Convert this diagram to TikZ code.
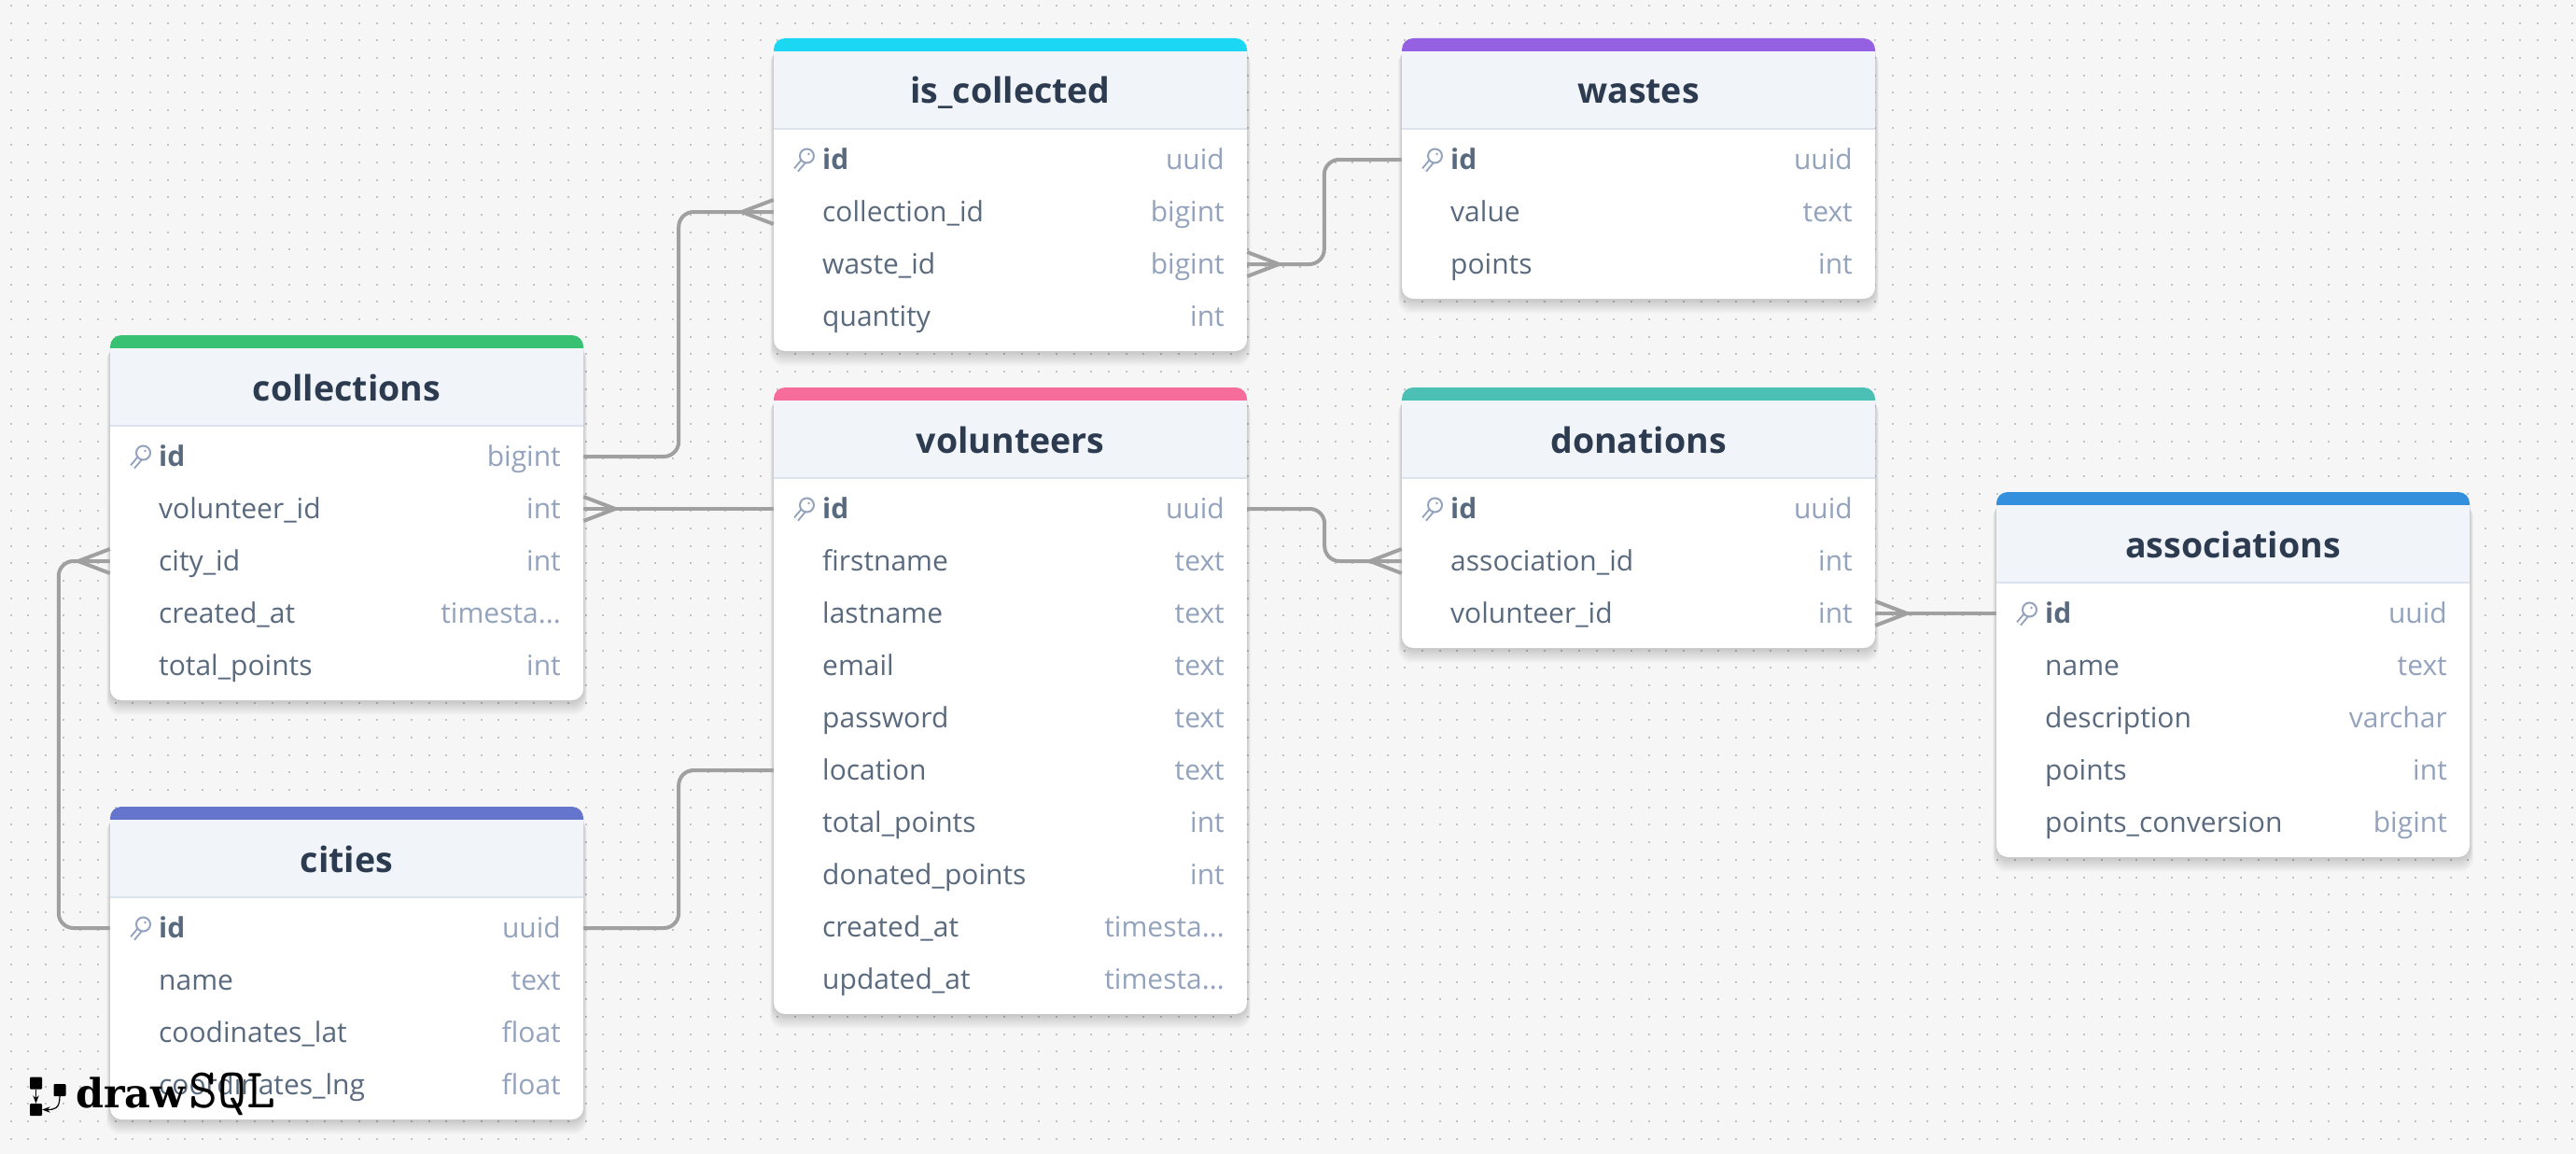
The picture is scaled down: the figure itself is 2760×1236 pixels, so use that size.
\documentclass[tikz,border=0pt]{standalone}
\usepackage{fontspec}
\setmainfont{Open Sans}
\newfontfamily\logofont{DejaVu Serif}
\usetikzlibrary{arrows.meta, positioning}
\definecolor{pagecol}{HTML}{F6F6F6}
\definecolor{dotcol}{HTML}{C2C2C2}
\definecolor{headcol}{HTML}{F1F4F9}
\definecolor{headline}{HTML}{DBE3EF}
\definecolor{titlecol}{HTML}{2D3B50}
\definecolor{fieldcol}{HTML}{5A6A7E}
\definecolor{typecol}{HTML}{94A3BD}
\definecolor{linkcol}{HTML}{A0A0A0}
\definecolor{greencol}{HTML}{38C172}
\definecolor{cyancol}{HTML}{1CD7F2}
\definecolor{purplecol}{HTML}{9561E2}
\definecolor{pinkcol}{HTML}{F66D9B}
\definecolor{tealcol}{HTML}{4DC0B5}
\definecolor{indigocol}{HTML}{6574CD}
\definecolor{bluecol}{HTML}{3490DC}
\newcommand{\tstamp}{timesta...}
\tikzset{
  cardshadow/.style={fill=black, fill opacity=0.011, rounded corners=14pt},
  tabletitle/.style={anchor=base, inner sep=0pt, text=titlecol, font=\fontsize{37.5}{42}\selectfont\bfseries},
  rowbox/.style={minimum width=507pt, minimum height=56pt, inner sep=0pt},
  fieldname/.style={anchor=base west, inner sep=0pt, text=fieldcol, font=\fontsize{30}{34}\selectfont},
  pkname/.style={fieldname, font=\fontsize{30}{34}\selectfont\bfseries},
  fieldtype/.style={anchor=base east, inner sep=0pt, text=typecol, font=\fontsize{30}{34}\selectfont},
  link/.style={draw=linkcol, line width=4pt, rounded corners=16pt},
  crow/.pic={\draw[linkcol, line width=4pt] (0,-13) -- (34,0) -- (0,13);},
  keyicon/.pic={
    \draw[typecol, line width=7pt] (-8,11) -- (3,-2);
    \draw[white, line width=3pt] (-8,11) -- (3,-2);
    \draw[typecol, line width=2pt, fill=white] (3.5,-4) circle (7.5);
    \fill[typecol] (5.5,-6) circle (1.4);
  },
  logosq/.style={fill=black, rounded corners=1pt, minimum width=13pt, minimum height=13pt, inner sep=0pt},
}
% #1 name, #2 left, #3 top, #4 rows, #5 colour, #6 title, #7 type of id, #8 other rows
\newcommand{\dbtable}[8]{
  \begin{scope}[shift={(#2,#3)}]
    \foreach \sh in {1,2,...,16}
      \fill[cardshadow] (-\sh/4,6+\sh/2) rectangle (507+\sh/4,{131+56*(#4-1)+36+\sh});
    \fill[white, rounded corners=12pt] (0,0) rectangle (507,{131+56*(#4-1)+36});
    \fill[#5, rounded corners=12pt] (0,0) rectangle (507,30);
    \fill[headcol] (0,14) rectangle (507,97);
    \draw[headline, line width=1.5pt] (0,97) -- (507,97);
    \node[tabletitle] (#1) at (253.5,70) {#6};
    \node[rowbox] (#1-1) at (253.5,130) {};
    \pic at (32,130) {keyicon};
    \node[pkname] (#1-1-f) at (52,140) {id};
    \node[fieldtype] (#1-1-t) at (483,140) {#7};
    \foreach \fname/\ftype [count=\i from 2] in {#8} {
      \node[rowbox] (#1-\i) at (253.5,{130+56*(\i-1)}) {};
      \node[fieldname] (#1-\i-f) at (52,{140+56*(\i-1)}) {\fname};
      \node[fieldtype] (#1-\i-t) at (483,{140+56*(\i-1)}) {\ftype};
    }
  \end{scope}
}
\begin{document}
\begin{tikzpicture}[x=1pt, y=-1pt, >=Stealth]
  \fill[pagecol] (0,0) rectangle (2760,1236);
  \useasboundingbox (0,0) rectangle (2760,1236);
  % dotted grid
  \foreach \dy in {0,...,65}
    \draw[dotcol, line width=2pt, dash pattern=on 2pt off 16.67pt] (10.7,{6+18.67*\dy}) -- (2760,{6+18.67*\dy});

  \dbtable{collections}{118}{359}{5}{greencol}{collections}{bigint}{volunteer\_id/int, city\_id/int, created\_at/\tstamp, total\_points/int}
  \dbtable{iscollected}{829}{41}{4}{cyancol}{is\_collected}{uuid}{collection\_id/bigint, waste\_id/bigint, quantity/int}
  \dbtable{wastes}{1502}{41}{3}{purplecol}{wastes}{uuid}{value/text, points/int}
  \dbtable{volunteers}{829}{415}{10}{pinkcol}{volunteers}{uuid}{firstname/text, lastname/text, email/text, password/text, location/text, total\_points/int, donated\_points/int, created\_at/\tstamp, updated\_at/\tstamp}
  \dbtable{donations}{1502}{415}{3}{tealcol}{donations}{uuid}{association\_id/int, volunteer\_id/int}
  \dbtable{associations}{2139}{527}{5}{bluecol}{associations}{uuid}{name/text, description/varchar, points/int, points\_conversion/bigint}
  \dbtable{cities}{118}{864}{4}{indigocol}{cities}{uuid}{name/text, coodinates\_lat/float, coordinates\_lng/float}

  % links
  \draw[link] (collections-1.east) -- ++(102,0) |- (iscollected-2.west);
  \pic[xscale=-1] at (iscollected-2.west) {crow};
  \draw[link] (wastes-1.west) -- ++(-83,0) |- (iscollected-3.east);
  \pic at (iscollected-3.east) {crow};
  \draw[link] (volunteers-1.west) -- (collections-2.east);
  \pic at (collections-2.east) {crow};
  \draw[link] (cities-1.west) -- ++(-55,0) |- (collections-3.west);
  \pic[xscale=-1] at (collections-3.west) {crow};
  \draw[link] (cities-1.east) -- ++(102,0) |- (volunteers-6.west);
  \draw[link] (volunteers-1.east) -- ++(83,0) |- (donations-2.west);
  \pic[xscale=-1] at (donations-2.west) {crow};
  \draw[link] (associations-1.west) -- (donations-3.east);
  \pic at (donations-3.east) {crow};

  % logo
  \node[logosq] (logoa) at (38.5,1160) {};
  \node[logosq] (logob) at (64,1167.5) {};
  \node[logosq] (logoc) at (38.5,1188.5) {};
  \draw[->, line width=1.2pt] (logoa) -- (logoc);
  \draw[->, line width=1.2pt] (logob.south) .. controls (64,1188) and (58,1188.5) .. (logoc.east);
  \node[anchor=base west, inner sep=0pt, font=\logofont\bfseries\fontsize{43}{45}\selectfont] (logodraw) at (81,1186) {draw};
  \node[anchor=base west, inner sep=0pt, font=\ttfamily\fontsize{60}{62}\selectfont] (logosql) at (202,1186) {SQL};
\end{tikzpicture}
\end{document}
